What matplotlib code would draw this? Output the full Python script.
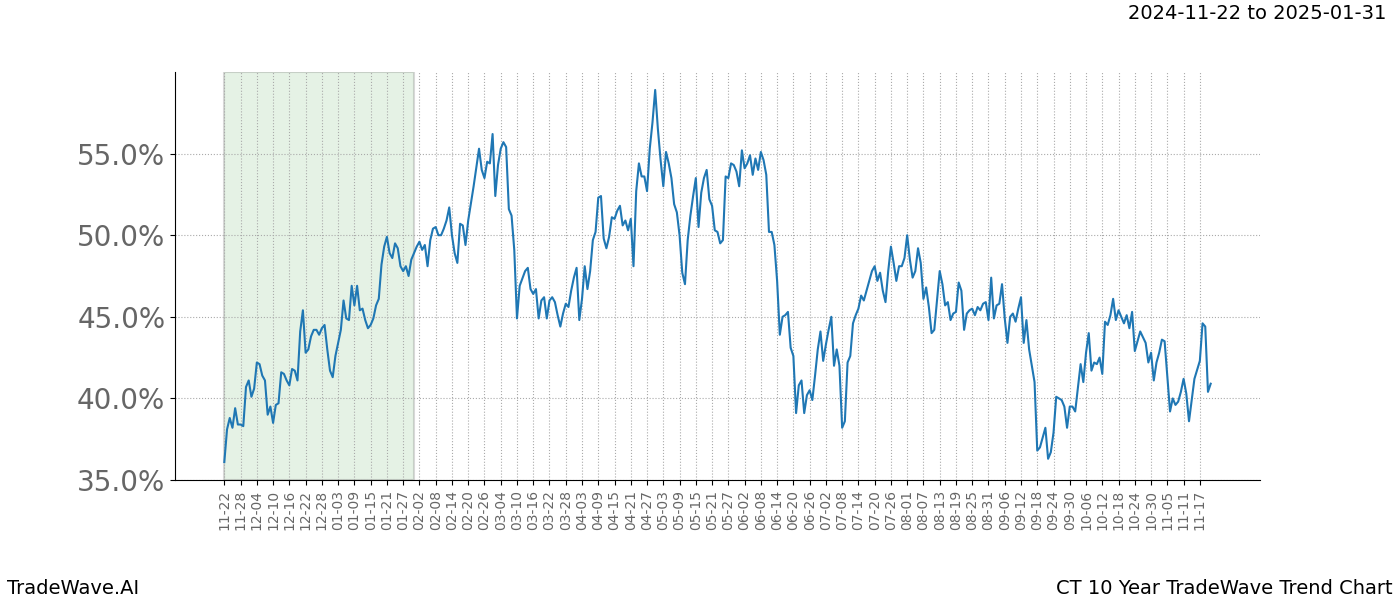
import matplotlib
matplotlib.use("Agg")
import matplotlib.pyplot as plt
import matplotlib.ticker as mticker
import pandas as pd

start_date = "2024-11-22"
day_offsets = [
    0, 1, 2, 3, 4, 5, 6, 7, 8, 9, 10, 11, 12, 13, 14, 15, 16, 17, 18, 19,
    20, 21, 22, 23, 24, 25, 26, 27, 28, 29, 30, 31, 32, 33, 34, 35, 36, 37, 38, 39,
    40, 41, 43, 44, 45, 46, 47, 48, 49, 50, 51, 52, 53, 54, 55, 56, 57, 58, 59, 60,
    61, 62, 63, 64, 65, 66, 67, 68, 69, 70, 71, 72, 73, 74, 75, 76, 77, 78, 79, 80,
    81, 82, 83, 84, 85, 86, 87, 88, 89, 90, 92, 94, 95, 96, 97, 98, 99, 100, 101, 102,
    103, 104, 105, 106, 107, 108, 109, 111, 112, 113, 114, 115, 116, 117, 118, 119, 120, 121, 122, 123,
    124, 125, 126, 127, 128, 129, 130, 131, 132, 133, 134, 135, 136, 137, 138, 139, 140, 141, 142, 143,
    144, 145, 146, 147, 148, 149, 150, 151, 152, 153, 154, 155, 156, 157, 158, 159, 160, 161, 162, 163,
    164, 165, 166, 167, 168, 169, 170, 171, 172, 173, 174, 175, 176, 177, 178, 179, 180, 181, 182, 183,
    184, 185, 186, 187, 188, 189, 190, 191, 192, 193, 194, 195, 196, 197, 198, 199, 200, 201, 202, 203,
    204, 205, 206, 207, 208, 209, 210, 211, 212, 213, 214, 215, 216, 217, 218, 219, 220, 221, 222, 223,
    224, 225, 226, 227, 228, 229, 230, 231, 232, 233, 234, 235, 236, 237, 238, 239, 240, 241, 242, 243,
    244, 245, 246, 247, 248, 249, 250, 251, 252, 253, 254, 255, 256, 257, 258, 259, 260, 261, 262, 263,
    264, 265, 266, 267, 268, 269, 270, 271, 272, 273, 274, 275, 276, 277, 278, 279, 280, 281, 282, 283,
    284, 285, 286, 287, 288, 289, 290, 291, 292, 293, 294, 295, 296, 297, 299, 300, 301, 302, 303, 304,
    305, 306, 307, 308, 309, 310, 311, 312, 313, 314, 316, 317, 318, 319, 320, 321, 322, 323, 324, 325,
    326, 327, 328, 329, 330, 332, 333, 334, 335, 336, 338, 340, 341, 342, 343, 344, 345, 346, 347, 349,
    350, 351, 352, 353, 354, 355, 356, 357, 358, 360, 361, 362, 363, 364,
]
trend_pct = [
    36.1, 38.1, 38.8, 38.2, 39.4, 38.4, 38.4, 38.3, 40.7, 41.1, 40.1, 40.6, 42.2, 42.1, 41.4, 41.1, 39.0, 39.5, 38.5, 39.6,
    39.7, 41.6, 41.5, 41.1, 40.8, 41.8, 41.7, 41.1, 44.1, 45.4, 42.8, 43.0, 43.8, 44.2, 44.2, 43.9, 44.3, 44.5, 43.0, 41.7,
    41.3, 42.6, 44.2, 46.0, 44.9, 44.8, 46.9, 45.7, 46.9, 45.4, 45.5, 44.8, 44.3, 44.5, 44.9, 45.7, 46.1, 48.2, 49.3, 49.9,
    48.9, 48.6, 49.5, 49.2, 48.1, 47.8, 48.1, 47.5, 48.5, 48.9, 49.3, 49.6, 49.1, 49.4, 48.1, 49.7, 50.4, 50.5, 50.0, 50.0,
    50.4, 50.9, 51.7, 50.0, 48.9, 48.3, 50.7, 50.6, 49.4, 50.9, 53.0, 55.3, 54.0, 53.5, 54.5, 54.4, 56.2, 52.4, 54.3, 55.3,
    55.7, 55.4, 51.6, 51.2, 49.1, 44.9, 46.9, 47.8, 48.0, 46.7, 46.4, 46.7, 44.9, 46.0, 46.2, 44.9, 46.0, 46.2, 45.9, 45.1,
    44.4, 45.2, 45.8, 45.6, 46.6, 47.4, 48.0, 44.8, 46.1, 48.1, 46.7, 47.8, 49.7, 50.2, 52.3, 52.4, 49.8, 49.2, 49.9, 51.1,
    51.0, 51.5, 51.8, 50.6, 50.9, 50.3, 51.0, 48.1, 52.7, 54.4, 53.6, 53.6, 52.7, 55.3, 56.9, 58.9, 56.5, 54.6, 53.0, 55.1,
    54.4, 53.5, 51.9, 51.4, 50.0, 47.7, 47.0, 49.7, 51.2, 52.4, 53.5, 50.5, 52.6, 53.5, 54.0, 52.2, 51.8, 50.3, 50.2, 49.5,
    49.7, 53.6, 53.5, 54.4, 54.3, 53.9, 53.0, 55.2, 54.1, 54.4, 54.9, 53.7, 54.7, 54.0, 55.1, 54.6, 53.7, 50.2, 50.2, 49.4,
    47.2, 43.9, 45.0, 45.1, 45.3, 43.1, 42.6, 39.1, 40.8, 41.1, 39.1, 40.2, 40.5, 39.9, 41.4, 43.0, 44.1, 42.3, 43.3, 44.2,
    45.0, 42.0, 43.0, 42.0, 38.2, 38.6, 42.2, 42.6, 44.6, 45.1, 45.5, 46.3, 46.0, 46.6, 47.2, 47.8, 48.1, 47.2, 47.7, 46.6,
    45.9, 47.8, 49.3, 48.3, 47.2, 48.1, 48.1, 48.6, 50.0, 48.5, 47.4, 47.8, 49.2, 48.3, 46.1, 46.8, 45.6, 44.0, 44.2, 46.0,
    47.8, 47.0, 45.7, 45.9, 44.8, 45.2, 45.3, 47.1, 46.6, 44.2, 45.2, 45.4, 45.5, 45.1, 45.6, 45.4, 45.8, 45.9, 44.8, 47.4,
    44.9, 45.7, 45.8, 47.0, 44.9, 43.4, 45.0, 45.2, 44.7, 45.5, 46.2, 43.4, 44.8, 43.0, 41.0, 36.8, 37.0, 37.6, 38.2, 36.3,
    36.7, 37.9, 40.1, 40.0, 39.9, 39.5, 38.2, 39.5, 39.5, 39.2, 42.1, 41.0, 42.8, 44.0, 41.7, 42.2, 42.1, 42.5, 41.5, 44.7,
    44.5, 45.1, 46.1, 44.8, 45.4, 44.6, 45.1, 44.3, 45.3, 42.9, 44.1, 43.4, 42.2, 42.8, 41.1, 42.2, 42.8, 43.6, 43.5, 39.2,
    40.0, 39.6, 39.8, 40.4, 41.2, 40.3, 38.6, 39.9, 41.2, 42.3, 44.6, 44.4, 40.4, 40.9,
]
shade_start = "2024-11-22"
shade_end = "2025-01-31"
tick_start = "2024-11-22"
tick_end = "2025-11-17"
tick_step_days = 6
y_ticks = [0.35, 0.40, 0.45, 0.50, 0.55]
title_range = "2024-11-22 to 2025-01-31"
left_footer = "TradeWave.AI"
right_footer = "CT 10 Year TradeWave Trend Chart"

dates = pd.Timestamp(start_date) + pd.to_timedelta(day_offsets, unit="D")
values = [v / 100.0 for v in trend_pct]

fig = plt.figure(figsize=(14, 6), dpi=100)
ax = fig.add_axes([0.125, 0.2, 0.775, 0.68])

ax.axvspan(pd.Timestamp(shade_start), pd.Timestamp(shade_end),
           facecolor=(0, 0.5, 0, 0.1), edgecolor=(0.5, 0.5, 0.5, 0.3), linewidth=1.5, zorder=0)
ax.plot(dates, values, color="#1f77b4", linewidth=1.5, zorder=3)

ax.set_ylim(0.35, 0.60)
ax.set_yticks(y_ticks)
ax.yaxis.set_major_formatter(mticker.FuncFormatter(lambda v, p: f"{v*100:.1f}%"))

ticks = pd.date_range(tick_start, tick_end, freq=f"{tick_step_days}D")
ax.set_xticks(ticks)
ax.set_xticklabels([t.strftime("%m-%d") for t in ticks], rotation=90)
ax.margins(x=0.05)

ax.tick_params(axis="y", labelsize=20, labelcolor="#666666")
ax.tick_params(axis="x", labelsize=10, labelcolor="#666666")
ax.grid(True, color="#aaaaaa", linestyle=":", linewidth=0.8)
ax.set_axisbelow(True)
ax.spines["top"].set_visible(False)
ax.spines["right"].set_visible(False)

fig.text(0.99, 0.993, title_range, ha="right", va="top", fontsize=14)
fig.text(0.005, 0.003, left_footer, ha="left", va="bottom", fontsize=14)
fig.text(0.995, 0.003, right_footer, ha="right", va="bottom", fontsize=14)

fig.savefig("out.png", dpi=100)
